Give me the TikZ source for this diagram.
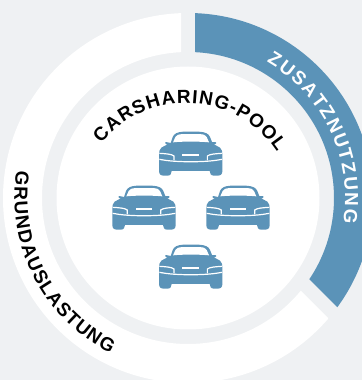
\documentclass[tikz,border=0pt]{standalone}
\usepackage{fontspec}
\setmainfont{Liberation Sans}
\usetikzlibrary{decorations.text}
\definecolor{bgc}{HTML}{EFF1F3}
\definecolor{bluec}{HTML}{5B93B8}
\newcommand{\ringpath}{(188,182) circle[radius=185] (188,182) circle[radius=146]}
\newcommand{\labfont}{\fontsize{19}{21}\selectfont\bfseries}
\newcommand{\labfontw}{\fontsize{19}{21}\selectfont\bfseries\color{white}}
\tikzset{
  car/.pic={
    \begin{scope}[x=0.3333bp,y=-0.3333bp,shift={(-272,-100)}]
      \fill[bluec] (212,70) -- (218,52) .. controls (222,42) and (232,37) .. (250,36) -- (296,36) .. controls (316,37) and (326,42) .. (330,52) -- (336,67) -- (346,67) .. controls (350,67) and (350,72) .. (346,73) -- (340,73) -- (360,84) .. controls (366,90) and (367,96) .. (367,104) -- (367,154) .. controls (367,164) and (362,168) .. (352,168) -- (342,168) .. controls (332,168) and (330,162) .. (329,154) -- (215,154) .. controls (214,162) and (212,168) .. (202,168) -- (192,168) .. controls (182,168) and (177,164) .. (177,154) -- (177,104) .. controls (177,96) and (178,90) .. (184,84) -- (204,73) -- (198,73) .. controls (194,72) and (194,67) .. (198,67) -- cycle;
      \fill[white] (219,68) -- (226,52) .. controls (229,46) and (234,44) .. (250,43) -- (296,43) .. controls (312,44) and (317,46) .. (320,52) -- (327,68) .. controls (295,65) and (250,65) .. (219,68) -- cycle;
      \fill[white] (247,104) rectangle (297,110);
      \draw[white,line width=1.2bp] (178,101) .. controls (195,102) and (215,103) .. (222,109) -- (222,122);
      \draw[white,line width=1.2bp] (366,101) .. controls (349,102) and (329,103) .. (322,109) -- (322,122);
      \draw[white,line width=1.2bp] (178,119) -- (190,121) .. controls (230,128) and (314,128) .. (354,121) -- (366,119);
    \end{scope}
  }
}
\begin{document}
\begin{tikzpicture}[x=1bp,y=1bp]
\useasboundingbox (0,0) rectangle (362,380);
\fill[bgc] (0,0) rectangle (362,380);
\begin{scope}
  \clip (0,0) rectangle (362,380);
  \begin{scope}
    \clip (181,400) -- (181,209) -- (400,-10) -- (-10,-10) -- (-10,400) -- cycle;
    \fill[white,even odd rule] \ringpath;
  \end{scope}
  \begin{scope}
    \clip (195,400) -- (400,400) -- (400,10) -- (195,215) -- cycle;
    \fill[bluec,even odd rule] \ringpath;
  \end{scope}
\end{scope}
\fill[white] (188,182) circle[radius=131.5];
\pic at (190.7,227) {car};
\pic at (144,173) {car};
\pic at (238,173) {car};
\pic at (190.7,114) {car};
\path[decorate,decoration={text along path,text align=fit to path,
  text={|\labfont|CARSHARING-POOL}}]
  (186,168) ++(141:109) arc[start angle=141,end angle=33.3,radius=109];
\path[decorate,decoration={text along path,text align=fit to path,
  text={|\labfontw|ZUSATZNUTZUNG}}]
  (188,182) ++(60:157) arc[start angle=60,end angle=-9,radius=157];
\path[decorate,decoration={text along path,text align=fit to path,
  text={|\labfont|GRUNDAUSLASTUNG}}]
  (188,182) ++(171:173.5) arc[start angle=171,end angle=243.5,radius=173.5];
\end{tikzpicture}
\end{document}
